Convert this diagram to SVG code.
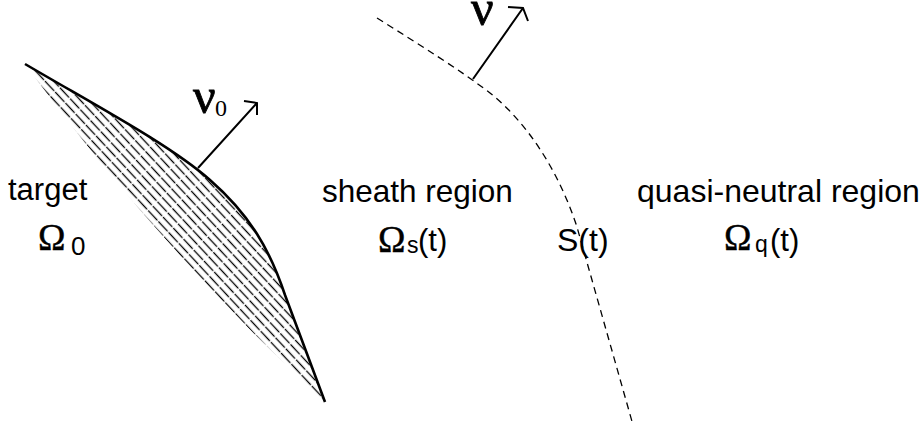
<svg xmlns="http://www.w3.org/2000/svg" width="923" height="436" viewBox="0 0 923 436">
<style>
.sans{font-family:"Liberation Sans",Arial,sans-serif;fill:#000}
.serif{font-family:"Liberation Serif","Times New Roman",serif;fill:#000}
.omega{font-family:"Liberation Serif","Times New Roman",serif;fill:#000;stroke:#000;stroke-width:0.4;font-size:37px}
.nu{font-family:"Liberation Serif","Times New Roman",serif;fill:#000;stroke:#000;stroke-width:0.8;font-size:50px}
.arrow{fill:none;stroke:#000;stroke-width:2;stroke-linecap:butt}
</style>
<defs>
<pattern id="hatch" width="15" height="6.4" patternUnits="userSpaceOnUse" patternTransform="rotate(47)">
<line x1="0" y1="3.2" x2="15" y2="3.2" stroke="#000" stroke-width="1.3" stroke-dasharray="13.5 1.5"/>
</pattern>
</defs>
<rect width="923" height="436" fill="#fff"/>
<g id="target">
<path d="M25,64 C100,108 170,145 210,180 C250,215 270,250 285,295 L325,402 Q160,250 25,64 Z" fill="url(#hatch)" stroke="none"/>
<path d="M25,64 C100,108 170,145 210,180 C250,215 270,250 285,295 L325,402" fill="none" stroke="#000" stroke-width="2.6"/>
<text class="sans" x="8" y="200" font-size="31">target</text>
<text class="omega" x="38" y="250">Ω</text>
<text class="sans" x="71" y="255" font-size="26">0</text>
</g>
<g id="sheath-boundary">
<path d="M377,18 C420,45 460,70 490,93 C530,125 560,175 577,227 L633,425" fill="none" stroke="#000" stroke-width="1.3" stroke-dasharray="7 5"/>
<text class="sans" x="557" y="251" font-size="32">S(t)</text>
</g>
<g id="sheath-region">
<text class="sans" x="322" y="202" font-size="31.5">sheath region</text>
<text class="omega" x="378" y="252">Ω</text>
<text class="sans" x="407" y="253" font-size="23">s</text>
<text class="sans" x="418" y="251" font-size="31">(t)</text>
</g>
<g id="quasi-neutral-region">
<text class="sans" x="637" y="202" font-size="32">quasi-neutral region</text>
<text class="omega" x="724" y="250">Ω</text>
<text class="sans" x="755" y="252" font-size="23">q</text>
<text class="sans" x="770" y="251" font-size="31">(t)</text>
</g>
<g id="connectors">
<path class="arrow" d="M198,168 L257,103 M244,101 L257,103 L257,115"/>
<path class="arrow" d="M473,79 L523,8 M508,7 L523,8 L528,21"/>
</g>
<g id="normal-labels">
<text class="nu" x="193" y="113">ν</text>
<text class="serif" x="215" y="116" font-size="24">0</text>
<text class="nu" x="471" y="25">ν</text>
</g>
</svg>
